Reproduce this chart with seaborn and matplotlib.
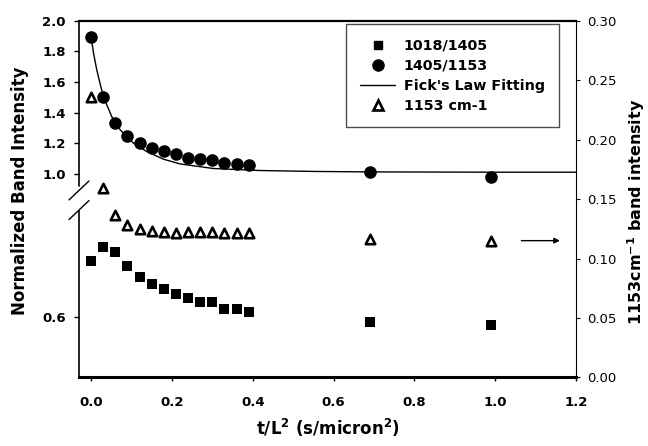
import numpy as np
import matplotlib
matplotlib.use("Agg")
import matplotlib.pyplot as plt
from matplotlib.lines import Line2D
from matplotlib.ticker import NullLocator
import seaborn as sns

# values
t_l2 = [0.0, 0.03, 0.06, 0.09, 0.12, 0.15, 0.18, 0.21, 0.24, 0.27, 0.30, 0.33,
        0.36, 0.39, 0.69, 0.99]
ratio_1405_1153 = [1.892, 1.50, 1.331, 1.250, 1.204, 1.170, 1.150, 1.130, 1.106,
                   1.096, 1.093, 1.074, 1.065, 1.059, 1.011, 0.982]
ratio_1018_1405 = [0.6926, 0.716, 0.707, 0.685, 0.666, 0.6545, 0.6458, 0.6375,
                   0.631, 0.6253, 0.6253, 0.6127, 0.6127, 0.6083, 0.5912, 0.5868]
band_1153 = [0.2355, 0.159, 0.1366, 0.128, 0.1245, 0.1231, 0.1225, 0.1212,
             0.1225, 0.1223, 0.122, 0.1217, 0.1217, 0.1212, 0.1161, 0.115]

fit_t = [0.0, 0.006, 0.014, 0.024, 0.031, 0.051, 0.072, 0.105, 0.138, 0.179,
         0.22, 0.303, 0.418, 0.55, 0.69, 0.85, 1.0, 1.2]
fit_ratio = [1.89, 1.787, 1.678, 1.569, 1.50, 1.374, 1.287, 1.20, 1.145, 1.096,
             1.065, 1.035, 1.022, 1.016, 1.013, 1.012, 1.011, 1.011]

left_ticks = [0.6, 1.0, 1.2, 1.4, 1.6, 1.8, 2.0]
right_ticks = [0.00, 0.05, 0.10, 0.15, 0.20, 0.25, 0.30]
x_ticks = [0.0, 0.2, 0.4, 0.6, 0.8, 1.0, 1.2]
arrow_x = (1.058, 1.167)
arrow_y = 0.115

sns.set_theme(style="ticks", rc={"axes.edgecolor": "black", "xtick.color": "black",
                                 "ytick.color": "black", "text.color": "black",
                                 "axes.labelcolor": "black"})
plt.rcParams['font.family'] = ['DejaVu Sans']


# broken left axis: lower part (around 0.6) stretched, upper part 1.0-2.0
def fwd(v):
    v = np.asarray(v, dtype=float)
    return np.minimum(60.5 + (v - 0.6) * 605.0, 50.2 + 153.3 * v)


def inv(z):
    z = np.asarray(z, dtype=float)
    return np.maximum(0.6 + (z - 60.5) / 605.0, (z - 50.2) / 153.3)


fig = plt.figure(figsize=(6.48, 4.46), dpi=100)
ax = fig.add_axes([0.1219, 0.1536, 0.7670, 0.8004])
ax.set_yscale('function', functions=(fwd, inv))
ax2 = ax.twinx()

sns.lineplot(x=fit_t, y=fit_ratio, color='black', lw=1, sort=False,
             estimator=None, ax=ax)
sns.scatterplot(x=t_l2, y=ratio_1405_1153, marker='o', s=82, color='black',
                linewidth=0, legend=False, ax=ax, zorder=3)
sns.scatterplot(x=t_l2, y=ratio_1018_1405, marker='s', s=44, color='black',
                linewidth=0, legend=False, ax=ax, zorder=3)
sns.scatterplot(x=t_l2, y=band_1153, marker='^', s=46, facecolor='white',
                edgecolor='black', linewidth=1.9, legend=False, ax=ax2, zorder=3)

ax.set_xlim(-0.03, 1.2)
ax.set_ylim(0.5, 2.0)
ax2.set_ylim(0.0, 0.30)

ax.set_xticks(x_ticks, labels=[f"{v:.1f}" for v in x_ticks], fontweight='bold',
              fontsize=9.5)
ax.set_yticks(left_ticks, labels=[f"{v:.1f}" for v in left_ticks],
              fontweight='bold', fontsize=9.5)
ax.yaxis.set_minor_locator(NullLocator())
ax2.set_yticks(right_ticks, labels=[f"{v:.2f}" for v in right_ticks], fontsize=9.5)
ax.tick_params(axis='x', direction='out', length=3, width=1, pad=10.5)
ax.tick_params(axis='y', direction='out', length=3.6, width=1, pad=5.8)
ax2.tick_params(axis='y', direction='out', length=3, width=0.8, pad=4.8)

# spines
ax.spines['left'].set_visible(False)
ax.spines['right'].set_visible(False)
ax.spines['top'].set_linewidth(1.6)
ax.spines['bottom'].set_linewidth(2.2)
for s in ['left', 'top', 'bottom']:
    ax2.spines[s].set_visible(False)
ax2.spines['right'].set_linewidth(0.8)

# left spine drawn in two pieces with break marks
ytr = ax.get_yaxis_transform()
ax.plot([0, 0], [0.5, 0.775], color='black', lw=1.2, transform=ytr, clip_on=False)
ax.plot([0, 0], [0.92, 2.0], color='black', lw=1.2, transform=ytr, clip_on=False)
for yc in (0.524, 0.469):
    ax.plot([-0.0201, 0.0201], [yc - 0.0266, yc + 0.0266], color='black', lw=1,
            transform=ax.transAxes, clip_on=False)

ax.set_xlabel("t/L$^{\\mathbf{2}}$ (s/micron$^{\\mathbf{2}}$)", fontsize=12,
              fontweight='bold')
ax.set_ylabel("Normalized Band Intensity", fontsize=12, fontweight='bold')
ax2.set_ylabel("1153cm$^{\\mathbf{-1}}$ band intensity", fontsize=11.5,
               fontweight='bold')
ax.xaxis.set_label_coords(0.5, -0.11)
ax.yaxis.set_label_coords(-0.1, 0.522)
ax2.yaxis.set_label_coords(1.1, 0.4636)

ax2.annotate("", xy=(arrow_x[1], arrow_y), xytext=(arrow_x[0], arrow_y),
             arrowprops=dict(arrowstyle='-|>', color='black', lw=1,
                             mutation_scale=8))

handles = [
    Line2D([], [], marker='s', ls='none', color='black', markersize=6),
    Line2D([], [], marker='o', ls='none', color='black', markersize=8),
    Line2D([], [], color='black', lw=1),
    Line2D([], [], marker='^', ls='none', markerfacecolor='white',
           markeredgecolor='black', markeredgewidth=1.9, markersize=6.5),
]
labels = ["1018/1405", "1405/1153", "Fick's Law Fitting", "1153 cm-1"]
leg = ax2.legend(handles, labels, loc='upper right', bbox_to_anchor=(0.966, 0.989),
                 borderaxespad=0, prop={'weight': 'bold', 'size': 10.3},
                 fancybox=False, edgecolor='0.3', framealpha=1,
                 handlelength=2.45, handletextpad=0.6, labelspacing=0.42,
                 borderpad=1.0)
leg.get_frame().set_linewidth(1)

fig.savefig('out.png', dpi=100)
